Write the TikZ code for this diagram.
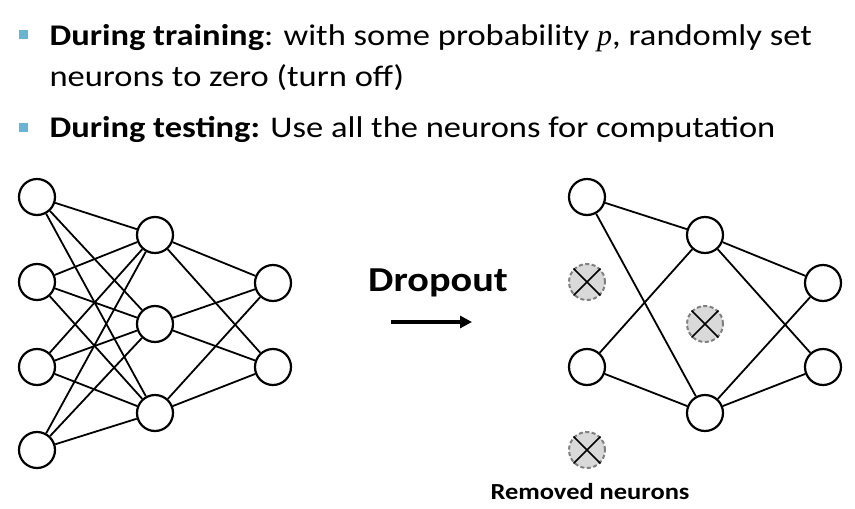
\documentclass[tikz,border=0pt]{standalone}
\usepackage{fontspec}
\setmainfont[FakeStretch=1.15]{Carlito}
\newfontfamily\mathlike{Liberation Serif}
\usetikzlibrary{arrows.meta}

\tikzset{
  neuron/.style={circle, draw=black, line width=2.2pt, minimum size=36pt, inner sep=0pt},
  removed/.style={circle, draw=gray, fill=gray!30, dashed, dash pattern=on 4pt off 2.5pt, line width=2pt, minimum size=36pt, inner sep=0pt},
  link/.style={line width=1.8pt},
  bullet/.style={fill=cyan!55!teal!70, minimum size=9pt, inner sep=0pt},
}

\begin{document}
\begin{tikzpicture}[x=1pt, y=-1pt]
    \useasboundingbox (0,0) rectangle (855,509);
    % Draw the bullet text
    \node[bullet] (b1m) at (23,34) {};
    \node[anchor=base west, font=\fontsize{30}{40}\selectfont] (t1) at (46,45) {\textbf{During training}: with some probability {\mathlike\itshape p}, randomly set};
    \node[anchor=base west, font=\fontsize{30}{40}\selectfont] (t2) at (46,86) {neurons to zero (turn off)};
    \node[bullet] (b2m) at (23,127) {};
    \node[anchor=base west, font=\fontsize{30}{40}\selectfont] (t3) at (46,137) {\textbf{During testing:} Use all the neurons for computation};
    % Draw the full network
    \node[neuron] (a1) at (37,197) {};
    \node[neuron] (a2) at (37,282) {};
    \node[neuron] (a3) at (37,367) {};
    \node[neuron] (a4) at (37,450) {};
    \node[neuron] (b1) at (155,235) {};
    \node[neuron] (b2) at (155,324) {};
    \node[neuron] (b3) at (155,413) {};
    \node[neuron] (c1) at (273,283) {};
    \node[neuron] (c2) at (273,367) {};
    \foreach \i in {1,...,4}
      \foreach \j in {1,2,3}
        \draw[link] (a\i) -- (b\j);
    \foreach \j in {1,2,3}
      \foreach \k in {1,2}
        \draw[link] (b\j) -- (c\k);
    % Draw the label and arrow
    \node[font=\bfseries\fontsize{35}{38}\selectfont] (drop) at (438,283) {Dropout};
    \coordinate (arrs) at (391,322);
    \coordinate (arre) at (472,322);
    \draw[line width=3.2pt, -{Triangle[length=12pt, width=12pt]}] (arrs) -- (arre);
    % Draw the thinned network
    \node[neuron] (d1) at (587,197) {};
    \node[removed] (d2) at (587,282) {};
    \node[neuron] (d3) at (587,367) {};
    \node[removed] (d4) at (587,450) {};
    \node[neuron] (e1) at (705,235) {};
    \node[removed] (e2) at (705,324) {};
    \node[neuron] (e3) at (705,413) {};
    \node[neuron] (f1) at (823,283) {};
    \node[neuron] (f2) at (823,367) {};
    \foreach \n in {d2,d4,e2} {
      \draw[line width=1.6pt] (\n.45) -- (\n.225);
      \draw[line width=1.6pt] (\n.135) -- (\n.315);
    }
    \foreach \i in {1,3}
      \foreach \j in {1,3}
        \draw[link] (d\i) -- (e\j);
    \foreach \j in {1,3}
      \foreach \k in {1,2}
        \draw[link] (e\j) -- (f\k);
    \node[font=\bfseries\fontsize{23}{28}\selectfont] (rem) at (590,492) {Removed neurons};
\end{tikzpicture}
\end{document}
